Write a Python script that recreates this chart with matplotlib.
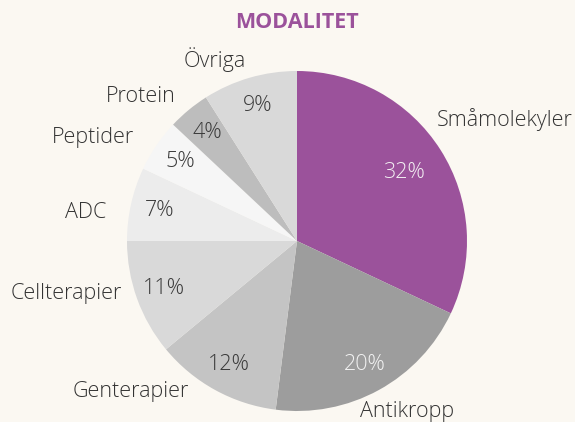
import matplotlib
matplotlib.use("Agg")
import matplotlib.pyplot as plt
import numpy as np

categories = ["Småmolekyler", "Antikropp", "Genterapier", "Cellterapier",
              "ADC", "Peptider", "Protein", "Övriga"]
values = [32, 20, 12, 11, 7, 5, 4, 9]
colors = ["#9b529b", "#9d9d9d", "#c4c4c4", "#d9d9d9",
          "#ececec", "#f6f6f6", "#bdbdbd", "#d9d9d9"]
pct_colors = ["#f2eef2", "#f2f2f2", "#3a3a3a", "#3a3a3a",
              "#3a3a3a", "#3a3a3a", "#3a3a3a", "#3a3a3a"]
title = "MODALITET"

# label anchor positions in pixel space (center of label text)
label_px = [(505, 120), (407, 411), (131, 391), (66, 293),
            (86, 213), (93, 137), (141, 97), (215, 60)]

bg = "#fbf8f2"
W, H = 575, 422
cx, cy, R = 297, 241, 170

plt.rcParams['font.family'] = ['Open Sans', 'DejaVu Sans']

fig = plt.figure(figsize=(W / 100, H / 100), dpi=100, facecolor=bg)
ax = fig.add_axes([0, 0, 1, 1])
ax.set_facecolor(bg)

wedges, texts, autotexts = ax.pie(
    values, colors=colors, startangle=90, counterclock=False, radius=1.0,
    autopct=lambda p: f"{p:.0f}%", pctdistance=0.83, labels=categories,
    wedgeprops=dict(linewidth=0),
    textprops=dict(fontsize=15.5, fontweight='light', color='#333333'))

for t, c, v in zip(autotexts, pct_colors, values):
    t.set_color(c)
    t.set_fontsize(15.5)
    t.set_fontweight('light')
autotexts[0].set_position((autotexts[0].get_position()[0] * 0.9,
                           autotexts[0].get_position()[1] * 0.9))

for t, (px, py) in zip(texts, label_px):
    t.set_position(((px - cx) / R, (cy - py) / R))
    t.set_ha('center')
    t.set_va('center')

ax.text((297 - cx) / R, (cy - 22) / R, title, ha='center', va='center',
        fontsize=15.5, fontweight='bold', color='#9b529b')

ax.set_xlim(-cx / R, (W - cx) / R)
ax.set_ylim(-(H - cy) / R, cy / R)
ax.set_aspect('equal')
ax.axis('off')

fig.savefig("out.png", dpi=100, facecolor=bg)
